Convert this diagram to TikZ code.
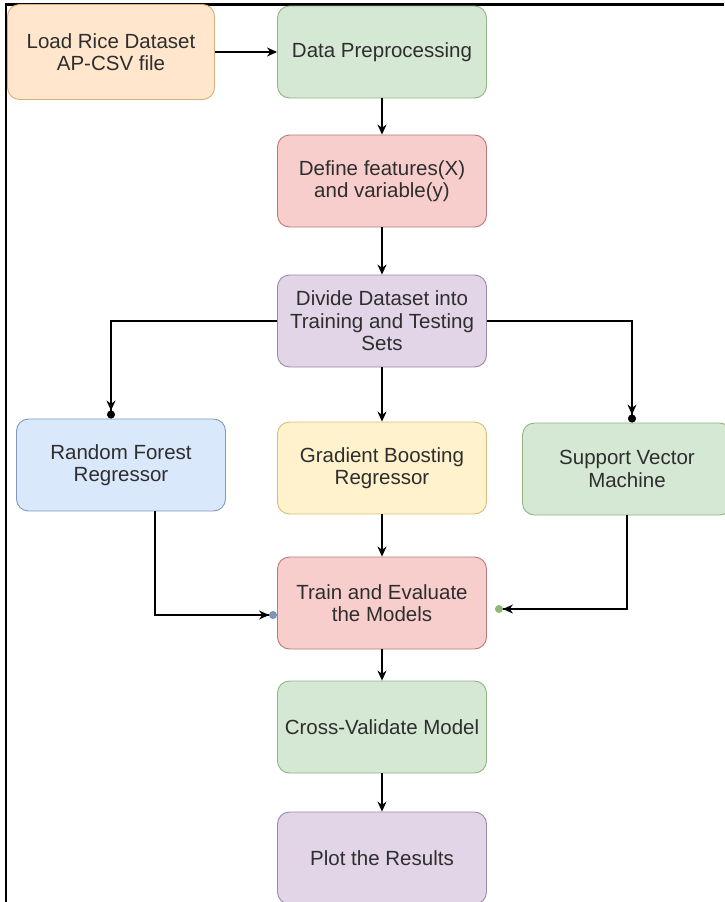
\documentclass[tikz,border=0pt]{standalone}
\usepackage{fontspec}
\setmainfont{Liberation Sans}
\usetikzlibrary{arrows.meta}
\definecolor{txt}{HTML}{2E2E2E}
\definecolor{orfill}{HTML}{FFE6CC}\definecolor{ordraw}{HTML}{D6B07A}
\definecolor{grfill}{HTML}{D5E8D4}\definecolor{grdraw}{HTML}{92B384}
\definecolor{rdfill}{HTML}{F8CECC}\definecolor{rddraw}{HTML}{B87A78}
\definecolor{pufill}{HTML}{E1D5E7}\definecolor{pudraw}{HTML}{9C88A8}
\definecolor{blfill}{HTML}{DAE8FC}\definecolor{bldraw}{HTML}{8099BD}
\definecolor{yefill}{HTML}{FFF2CC}\definecolor{yedraw}{HTML}{D6BE7A}
\definecolor{bldot}{HTML}{7F95B8}\definecolor{grdot}{HTML}{8DB87A}
\begin{document}
\begin{tikzpicture}[x=1pt,y=-1pt,
    box/.style={draw,rounded corners=12pt,line width=0.9pt,align=center,
      minimum width=209pt,minimum height=92pt,inner sep=0pt,text=txt,
      font=\fontsize{20.5}{22.5}\selectfont},
    orange/.style={box,fill=orfill,draw=ordraw},
    green/.style={box,fill=grfill,draw=grdraw},
    red/.style={box,fill=rdfill,draw=rddraw},
    purple/.style={box,fill=pufill,draw=pudraw},
    blue/.style={box,fill=blfill,draw=bldraw},
    yellow/.style={box,fill=yefill,draw=yedraw},
    link/.style={line width=1.2pt,-{Stealth[length=10pt,width=9pt]}}]
  \useasboundingbox (0,0) rectangle (724,902);
  \draw[line width=2.8pt] (724,4.5) -- (6,4.5) -- (6,902);
  \draw
    (111,52) node[orange,minimum width=207pt,minimum height=95pt] (load){Load Rice Dataset\\AP-CSV file}
    (382,52) node[green] (prep){Data Preprocessing}
    (382,181) node[red] (def){Define features(X)\\and variable(y)}
    (382,321) node[purple] (split){Divide Dataset into\\Training and Testing\\Sets}
    (121,465) node[blue] (rf){Random Forest\\Regressor}
    (382,468) node[yellow] (gb){Gradient Boosting\\Regressor}
    (627,469) node[green] (svm){Support Vector\\Machine}
    (382,603) node[red] (train){Train and Evaluate\\the Models}
    (382,727) node[green] (cv){Cross-Validate Model}
    (382,858) node[purple] (plot){Plot the Results};
  \begin{scope}[link]
    \draw (load) to (prep);
    \draw (prep) to (def);
    \draw (def) to (split);
    \draw[-{Stealth[length=10pt,width=9pt]Circle[length=8pt]}] (split.west) -| ([xshift=-10pt]rf.north);
    \draw (split) to (gb);
    \draw[-{Stealth[length=10pt,width=9pt]Circle[length=8pt]}] (split.east) -| ([xshift=5pt]svm.north);
    \draw[-{Stealth[length=10pt,width=9pt]Circle[length=8pt,color=bldot]}] ([xshift=34pt]rf.south) |- ([yshift=-12pt]train.west);
    \draw (gb) to (train);
    \draw[-{Stealth[length=10pt,width=9pt]Circle[length=8pt,color=grdot]}] (svm.south) |- ([xshift=8pt,yshift=-6pt]train.east);
    \draw (train) to (cv);
    \draw (cv) to (plot);
  \end{scope}
\end{tikzpicture}
\end{document}
